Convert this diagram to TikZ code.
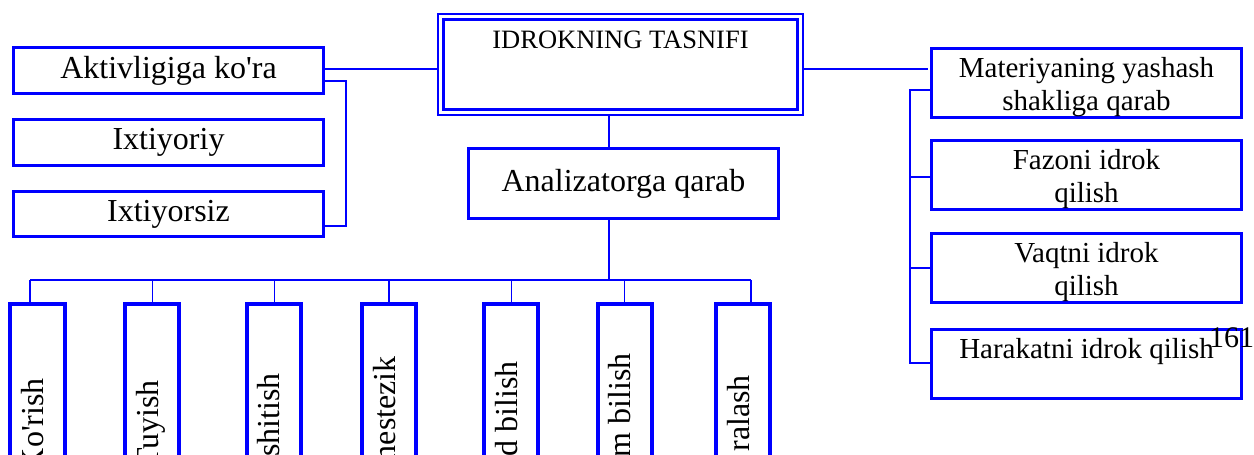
\documentclass[tikz,border=0pt]{standalone}
\usepackage{fontspec}
\setmainfont{Liberation Serif}
\makeatletter
\newcommand\sq{{\font\sqfont="Liberation Serif" at \f@size pt\sqfont\char39}}
\makeatother
\tikzset{
 conn/.style={draw=blue, line width=1.3pt},
 bx/.style={draw=blue, line width=3pt, inner sep=0pt, outer sep=0pt, minimum width=310pt},
 lbox/.style={bx, font=\fontsize{32}{36}\selectfont, minimum height=46pt},
 rbox/.style={bx, font=\fontsize{29}{33}\selectfont, align=center, minimum height=69pt},
 vbox/.style={draw=blue, line width=4pt, inner sep=0pt, outer sep=0pt, minimum width=54.4pt, minimum height=200pt},
 vtext/.style={rotate=90, anchor=base east, inner sep=0pt, font=\fontsize{32}{36}\selectfont},
}
\begin{document}
\begin{tikzpicture}[x=1pt,y=-1pt]
\useasboundingbox (0,0) rectangle (1254,455);
\clip (0,0) rectangle (1254,455);
% left group
\node[lbox] (akt) at (168.5,70.5) {Aktivligiga ko\sq ra};
\node[lbox] (ixt1) at (168.5,142.5) {Ixtiyoriy};
\node[lbox, minimum height=45pt] (ixt2) at (168.5,214) {Ixtiyorsiz};
% title
\node[draw=blue, double=white, double distance=3pt, line width=2.4pt, inner sep=0pt, outer sep=3.9pt,
      minimum width=359.2pt, text height=31.1pt, text depth=64.1pt,
      font=\fontsize{26.5}{30}\selectfont] (title) at (620.5,64.5) {IDROKNING TASNIFI};
\node[lbox, minimum height=70pt] (ana) at (623.5,183.5) {Analizatorga qarab};
% right group
\node[rbox] (mat) at (1086.5,83) {\rule{0pt}{28pt}Materiyaning yashash\\shakliga qarab};
\node[rbox] (faz) at (1086.5,175) {\rule{0pt}{28pt}Fazoni idrok\\qilish};
\node[rbox] (vaq) at (1086.5,268) {\rule{0pt}{28pt}Vaqtni idrok\\qilish};
\node[bx, font=\fontsize{29}{33}\selectfont, text height=28.5pt, text depth=40.5pt] (har) at (1086.5,364) {Harakatni idrok qilish};
\node[anchor=base west, inner sep=0pt, font=\fontsize{30}{34}\selectfont] (num) at (1209,347) {161};
% vertical boxes
\node[vbox] (v1) at (37.5,404) {};
\node[vbox] (v2) at (152.2,404) {};
\node[vbox] (v3) at (274.2,404) {};
\node[vbox] (v4) at (389,404) {};
\node[vbox] (v5) at (511.2,404) {};
\node[vbox] (v6) at (624.7,404) {};
\node[vbox] (v7) at (743,404) {};
\node[vtext] (t1) at (43.5,378) {Ko\sq rish};
\node[vtext] (t2) at (158,380) {Tuyish};
\node[vtext] (t3) at (279.5,373) {shitish};
\node[vtext] (t4) at (395,356) {nestezik};
\node[vtext] (t5) at (517,361) {d bilish};
\node[vtext] (t6) at (630.5,353) {m bilish};
\node[vtext] (t7) at (749,375) {ralash};
% coordinates
\coordinate (stem) at (609,0);
\coordinate (busL) at (30,280);
\coordinate (busR) at (751,280);
\coordinate (aR) at ([yshift=1.5pt]akt.east);
\coordinate (tR) at ([yshift=-4.5pt]title.east);
\coordinate (mL) at ([xshift=-4pt]mat.west);
\coordinate (b1) at ([yshift=-10.5pt,xshift=-1.5pt]akt.east);
\coordinate (b2) at ([yshift=-12pt,xshift=-1.5pt]ixt2.east);
\coordinate (rb) at (910,0);
\coordinate (r1) at ([yshift=-7pt]mat.west);
\coordinate (r2) at ([yshift=-2pt]faz.west);
\coordinate (r3) at (vaq.west);
\coordinate (r4) at ([yshift=1pt]har.west);
% connectors
\draw[conn] (aR) -- (aR -| title.west);
\draw[conn] (tR) -- (tR -| mL);
\draw[conn] (title.south -| stem) -- (ana.north -| stem);
\draw[conn] (ana.south -| stem) -- (stem |- busL);
\draw[conn] (busL) -- (busR);
\draw[conn] (busL) -- (busL |- v1.north);
\draw[conn] (v2.north |- busL) -- (v2.north);
\draw[conn] (v3.north |- busL) -- (v3.north);
\draw[conn] (v4.north |- busL) -- (v4.north);
\draw[conn] (v5.north |- busL) -- (v5.north);
\draw[conn] (v6.north |- busL) -- (v6.north);
\draw[conn] (busR) -- (busR |- v7.north);
\draw[conn] (b1) -- ++(24,0) |- (b2);
\draw[conn] (r1) -- (r1 -| rb) -- (r4 -| rb) -- (r4);
\draw[conn] (r2) -- (r2 -| rb);
\draw[conn] (r3) -- (r3 -| rb);
\end{tikzpicture}
\end{document}
